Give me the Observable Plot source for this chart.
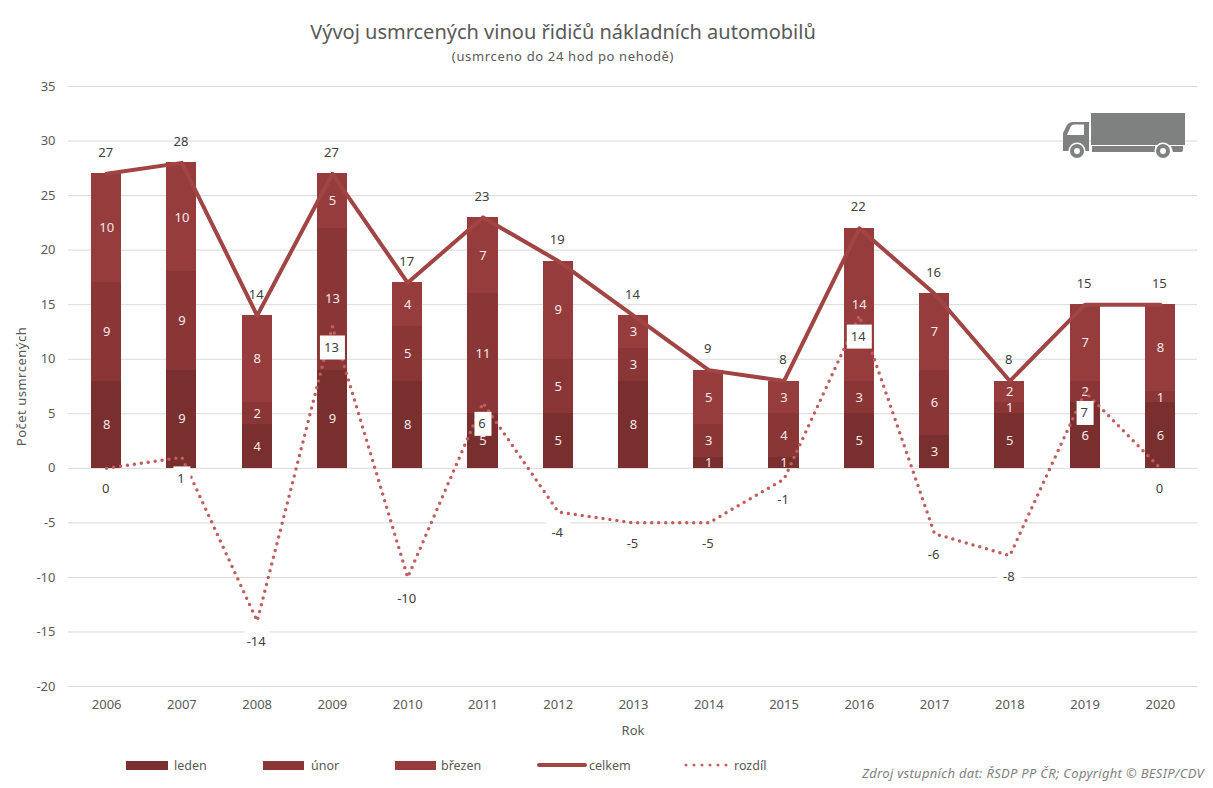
<!DOCTYPE html>
<html lang="cs">
<head>
<meta charset="utf-8">
<script src="https://cdn.jsdelivr.net/npm/d3@7"></script>
<script src="https://cdn.jsdelivr.net/npm/@observablehq/plot@0.6"></script>
<style>
html,body{margin:0;padding:0;background:#fff;}
#wrap{position:relative;width:1213px;height:788px;overflow:hidden;font-family:"Noto Sans",sans-serif;color:#595959;}
#wrap svg{display:block;}
.abs{position:absolute;white-space:nowrap;}
</style>
</head>
<body>
<div id="wrap"></div>
<script>
const years = ["2006","2007","2008","2009","2010","2011","2012","2013","2014","2015","2016","2017","2018","2019","2020"];
const leden  = [8,9,4,9,8,5,5,8,1,1,5,3,5,6,6];
const unor   = [9,9,2,13,5,11,5,3,3,4,3,6,1,2,1];
const brezen = [10,10,8,5,4,7,9,3,5,3,14,7,2,7,8];
const celkem = [27,28,14,27,17,23,19,14,9,8,22,16,8,15,15];
const rozdil = [0,1,-14,13,-10,6,-4,-5,-5,-1,14,-6,-8,7,0];

const months = ["leden","únor","březen"];
const monthValues = [leden, unor, brezen];
const monthColors = ["#7a2f2f","#8a3636","#973c3c"];
const lineColor = "#a04444";
const dotColor = "#c25c5e";
const textColor = "#404040";

const stacked = months.flatMap((m, i) => years.map((y, j) => ({year: y, month: m, value: monthValues[i][j]})));
const totals = years.map((y, j) => ({year: y, value: celkem[j]}));
const diffs = years.map((y, j) => ({year: y, value: rozdil[j]}));

const box = (w, h) => ({draw(c){ c.rect(-w/2, -h/2, w, h); }});
const wide = diffs.filter(d => String(d.value).length > 1);
const narrow = diffs.filter(d => !wide.includes(d));

const chart = Plot.plot({
  width: 1213, height: 788,
  marginTop: 86, marginBottom: 102, marginLeft: 68, marginRight: 16,
  style: {fontFamily: '"Noto Sans",sans-serif', fontSize: "13px", color: "#595959", background: "#fff"},
  x: {type: "band", domain: years, paddingInner: 0.6, paddingOuter: 0.3, range: [68.5, 1197.5], round: false},
  y: {domain: [-20, 35]},
  color: {domain: months, range: monthColors},
  marks: [
    Plot.gridY(d3.range(-20, 36, 5), {stroke: "#d9d9d9", strokeOpacity: 1, strokeWidth: 1}),
    Plot.axisY(d3.range(-20, 36, 5), {tickSize: 0, tickPadding: 13, tickFormat: d => String(d), label: "Počet usmrcených", labelAnchor: "center", labelArrow: "none", labelOffset: 52, fontSize: 13}),
    Plot.axisX({anchor: "bottom", tickSize: 0, tickPadding: 13, label: "Rok", labelAnchor: "center", labelArrow: "none", labelOffset: 48, fontSize: 13}),
    Plot.barY(stacked, {x: "year", y: "value", fill: "month", order: null, shapeRendering: "crispEdges"}),
    Plot.text(stacked, Plot.stackY({x: "year", y: "value", text: "value", order: null, fill: "#f2eaea", fontSize: 13})),
    Plot.line(totals, {x: "year", y: "value", stroke: lineColor, strokeWidth: 4, curve: "linear"}),
    Plot.line(diffs, {x: "year", y: "value", stroke: dotColor, strokeWidth: 3.5, strokeLinecap: "round", strokeDasharray: "0 7", curve: "linear"}),
    Plot.text(totals, {x: "year", y: "value", text: "value", dy: -21, dx: -1, fill: textColor, fontSize: 13}),
    Plot.dot(wide, {x: "year", y: "value", dy: 21, r: 4, fill: "#fff", stroke: "none", symbol: box(25, 24)}),
    Plot.dot(narrow, {x: "year", y: "value", dy: 21, r: 4, fill: "#fff", stroke: "none", symbol: box(17, 24)}),
    Plot.text(diffs, {x: "year", y: "value", text: d => String(d.value), dy: 21, dx: -1, fill: textColor, fontSize: 13})
  ]
});
const wrap = document.getElementById("wrap");
wrap.appendChild(chart);
d3.select(chart).select('[aria-label="y-axis label"]').style("letter-spacing", "0.5px");

function label(text, css){
  const e = document.createElement("div");
  e.className = "abs";
  e.textContent = text;
  e.style.cssText = css;
  wrap.appendChild(e);
  return e;
}
label("Vývoj usmrcených vinou řidičů nákladních automobilů", "left:563px;top:18px;transform:translateX(-50%);font-size:20px;line-height:28px;");
label("(usmrceno do 24 hod po nehodě)", "left:563px;top:48px;transform:translateX(-50%);font-size:13px;line-height:17px;letter-spacing:0.65px;");
label("Zdroj vstupních dat: ŘSDP PP ČR; Copyright © BESIP/CDV", "right:9px;top:765px;font-size:13px;line-height:17px;font-style:italic;color:#7f7f7f;letter-spacing:0.3px;");

// legend
const legendItems = [
  {name: "leden",  x: 126, tx: 174, w: 42, kind: "bar", color: monthColors[0]},
  {name: "únor",   x: 263, tx: 311, w: 41, kind: "bar", color: monthColors[1]},
  {name: "březen", x: 395, tx: 441, w: 41, kind: "bar", color: monthColors[2]},
  {name: "celkem", x: 539, tx: 589, w: 46, kind: "line", color: lineColor},
  {name: "rozdíl", x: 686, tx: 734, w: 41, kind: "dots", color: dotColor}
];
const ns = "http://www.w3.org/2000/svg";
const leg = document.createElementNS(ns, "svg");
leg.setAttribute("width", 1213); leg.setAttribute("height", 788);
leg.style.cssText = "position:absolute;left:0;top:0;pointer-events:none;";
wrap.appendChild(leg);
for (const it of legendItems) {
  let el;
  if (it.kind === "bar") {
    el = document.createElementNS(ns, "rect");
    el.setAttribute("x", it.x); el.setAttribute("y", 761);
    el.setAttribute("width", it.w); el.setAttribute("height", 9);
    el.setAttribute("fill", it.color);
  } else {
    el = document.createElementNS(ns, "line");
    el.setAttribute("x1", it.x); el.setAttribute("x2", it.x + it.w);
    el.setAttribute("y1", 765); el.setAttribute("y2", 765);
    el.setAttribute("stroke", it.color);
    el.setAttribute("stroke-linecap", "round");
    el.setAttribute("stroke-width", it.kind === "line" ? 4 : 3);
    if (it.kind === "dots") el.setAttribute("stroke-dasharray", "0 8");
  }
  leg.appendChild(el);
  label(it.name, `left:${it.tx}px;top:757px;font-size:12.5px;line-height:17px;`);
}

// truck icon
const truck = document.createElementNS(ns, "g");
truck.innerHTML = `
<rect x="1091" y="113" width="94" height="32" fill="#7f8180"/>
<path d="M1063 151V133L1067 125Q1069 122 1073 122H1089V151Z" fill="#7f8180"/>
<path d="M1067 135L1071 126Q1072 124.5 1074 124.5H1084V135Z" fill="#fff"/>
<rect x="1092" y="146" width="63" height="6" fill="#7f8180"/>
<path d="M1171 146H1183V150Q1183 152 1181 152H1173Z" fill="#7f8180"/>
<circle cx="1077" cy="151" r="8.5" fill="#fff"/><circle cx="1077" cy="151" r="7" fill="#7f8180"/><circle cx="1077" cy="151" r="3" fill="#fff"/>
<circle cx="1163" cy="151" r="8.5" fill="#fff"/><circle cx="1163" cy="151" r="7" fill="#7f8180"/><circle cx="1163" cy="151" r="3" fill="#fff"/>`;
leg.appendChild(truck);
</script>
</body>
</html>
